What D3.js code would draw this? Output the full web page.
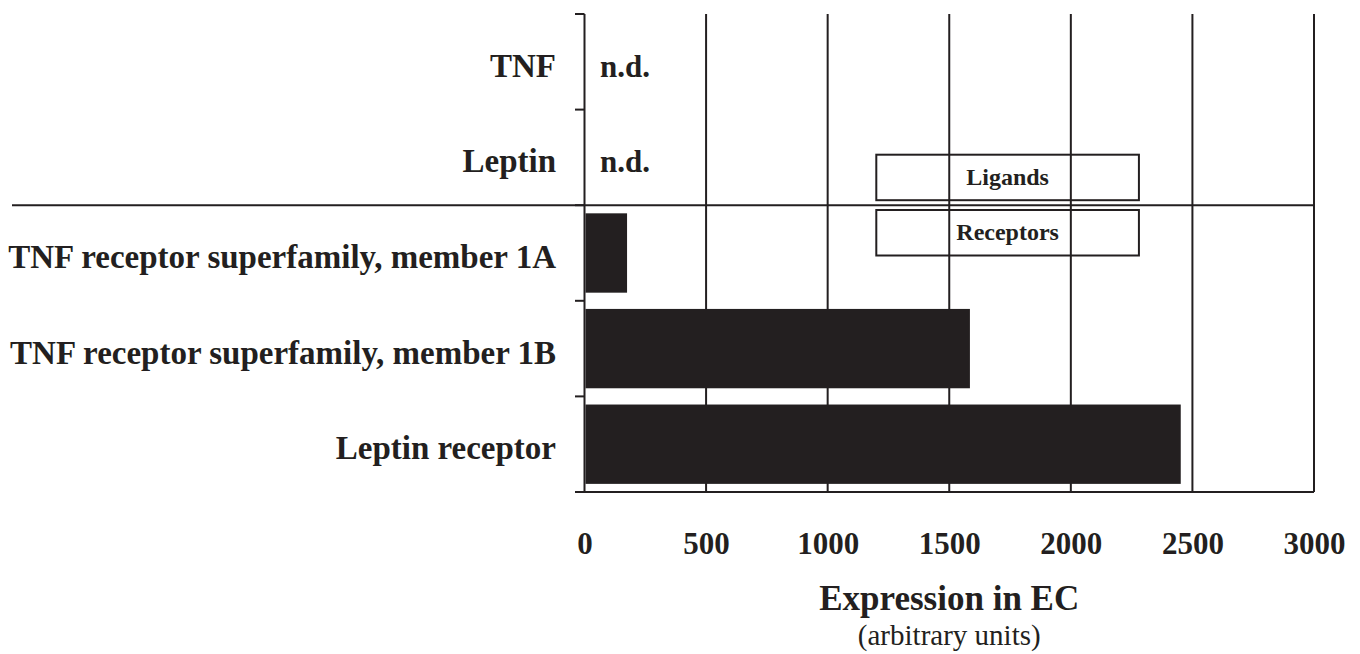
<!DOCTYPE html>
<html>
<head>
<meta charset="utf-8">
<script src="https://cdn.jsdelivr.net/npm/d3@7/dist/d3.min.js"></script>
<style>
  body { margin: 0; background: #fff; }
  svg { display: block; }
  text { font-family: "Liberation Serif", "Times New Roman", serif; fill: #231f20; }
</style>
</head>
<body>
<div id="viz"></div>
<script>
// data (null = n.d.)
var categories = ["TNF", "Leptin", "TNF receptor superfamily, member 1A",
                  "TNF receptor superfamily, member 1B", "Leptin receptor"];
var values = [null, null, 175, 1585, 2452];
var xTicks = [0, 500, 1000, 1500, 2000, 2500, 3000];
var legendLabels = ["Ligands", "Receptors"];
var legendRange = [1200, 2280];

var W = 1360, H = 654,
    ink = "#231f20";

var svg = d3.select("#viz").append("svg")
    .attr("width", W)
    .attr("height", H);

var x = d3.scaleLinear().domain([0, 3000]).range([584.5, 1314]);
var y = d3.scaleBand().domain(categories).range([14, 492])
    .paddingInner(0.17).paddingOuter(0.085);

var yTop = y.range()[0], yBottom = y.range()[1], step = y.step();

/* vertical gridlines */
svg.append("g").selectAll("line")
  .data(xTicks.slice(1))
  .enter().append("line")
    .attr("x1", function(d) { return x(d); })
    .attr("x2", function(d) { return x(d); })
    .attr("y1", yTop)
    .attr("y2", yBottom)
    .attr("stroke", ink)
    .attr("stroke-width", 2);

/* category boundary ticks on the y axis */
var bounds = d3.range(categories.length + 1).map(function(i) { return yTop + i * step; });
svg.append("g").selectAll("line")
  .data(bounds)
  .enter().append("line")
    .attr("x1", 575)
    .attr("x2", x(0))
    .attr("y1", function(d) { return d; })
    .attr("y2", function(d) { return d; })
    .attr("stroke", ink)
    .attr("stroke-width", 2);

/* y axis line and baseline */
svg.append("line")
    .attr("x1", x(0)).attr("x2", x(0))
    .attr("y1", yTop).attr("y2", yBottom)
    .attr("stroke", ink).attr("stroke-width", 2);
svg.append("line")
    .attr("x1", 575).attr("x2", x(3000))
    .attr("y1", yBottom).attr("y2", yBottom)
    .attr("stroke", ink).attr("stroke-width", 2);

/* separator between ligands and receptors */
svg.append("line")
    .attr("x1", 12).attr("x2", x(3000))
    .attr("y1", bounds[2]).attr("y2", bounds[2])
    .attr("stroke", ink).attr("stroke-width", 2);

/* bars */
var data = categories.map(function(c, i) { return { name: c, value: values[i] }; });

svg.append("g").selectAll("rect")
  .data(data.filter(function(d) { return d.value != null; }))
  .enter().append("rect")
    .attr("x", x(0) + 1)
    .attr("y", function(d) { return y(d.name); })
    .attr("width", function(d) { return x(d.value) - x(0) - 1; })
    .attr("height", y.bandwidth())
    .attr("fill", ink);

/* n.d. labels */
svg.append("g").selectAll("text")
  .data(data.filter(function(d) { return d.value == null; }))
  .enter().append("text")
    .attr("x", 600)
    .attr("y", function(d) { return y(d.name) + y.bandwidth() / 2 + 15; })
    .style("font-size", "31px")
    .style("font-weight", "bold")
    .text("n.d.");

/* category labels */
svg.append("g").selectAll("text")
  .data(categories)
  .enter().append("text")
    .attr("x", 556)
    .attr("y", function(d) { return y(d) + y.bandwidth() / 2 + 15; })
    .attr("text-anchor", "end")
    .style("font-size", "33px")
    .style("font-weight", "bold")
    .text(function(d) { return d; });

/* x axis labels */
var xAxis = d3.axisBottom(x).tickValues(xTicks).tickSize(0).tickPadding(40)
    .tickFormat(d3.format("d"));
var gx = svg.append("g")
    .attr("transform", "translate(0," + yBottom + ")")
    .call(xAxis);
gx.select(".domain").remove();
gx.selectAll("text")
    .style("font-family", '"Liberation Serif", "Times New Roman", serif')
    .style("font-size", "31px")
    .style("font-weight", "bold")
    .attr("fill", ink);

svg.append("text")
    .attr("x", x(1500))
    .attr("y", 610)
    .attr("text-anchor", "middle")
    .style("font-size", "35px")
    .style("font-weight", "bold")
    .text("Expression in EC");

svg.append("text")
    .attr("x", x(1500))
    .attr("y", 645)
    .attr("text-anchor", "middle")
    .style("font-size", "29px")
    .text("(arbitrary units)");

/* legend boxes straddling the separator */
var legendY = [154.7, 210];
var lg = svg.append("g").selectAll("g")
  .data(legendLabels)
  .enter().append("g");

lg.append("rect")
    .attr("x", x(legendRange[0]))
    .attr("y", function(d, i) { return legendY[i]; })
    .attr("width", x(legendRange[1]) - x(legendRange[0]))
    .attr("height", 45.5)
    .attr("fill", "none")
    .attr("stroke", ink)
    .attr("stroke-width", 2);

lg.append("text")
    .attr("x", (x(legendRange[0]) + x(legendRange[1])) / 2)
    .attr("y", function(d, i) { return legendY[i] + 30; })
    .attr("text-anchor", "middle")
    .style("font-size", "24px")
    .style("font-weight", "bold")
    .text(function(d) { return d; });
</script>
</body>
</html>
